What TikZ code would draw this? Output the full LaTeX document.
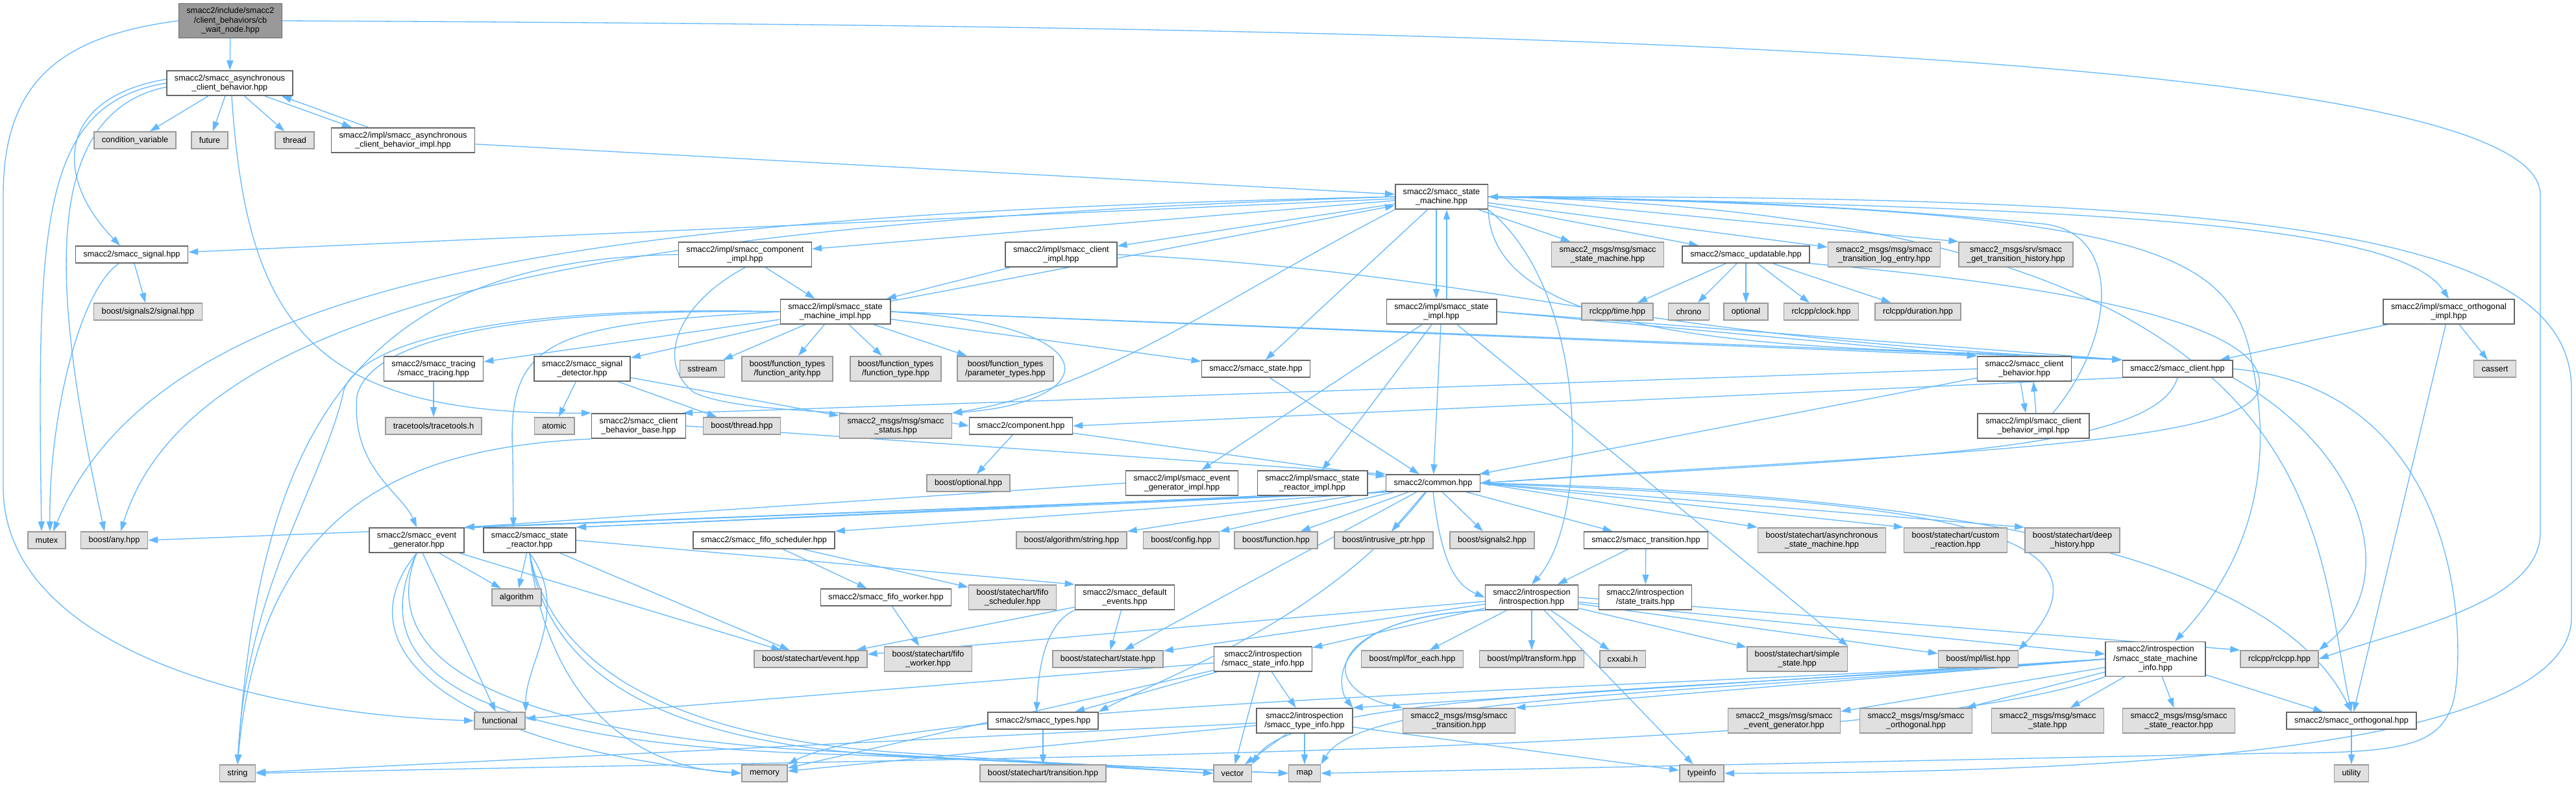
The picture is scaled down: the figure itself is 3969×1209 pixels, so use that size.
\documentclass[tikz,border=0pt]{standalone}
\usepackage{fontspec}
\setmainfont{Liberation Sans}
\usetikzlibrary{arrows.meta,backgrounds}
\definecolor{depblue}{HTML}{63B8FF}
\definecolor{boxline}{HTML}{666666}
\definecolor{extline}{HTML}{999999}
\definecolor{extfill}{HTML}{E0E0E0}
\definecolor{rootfill}{HTML}{999999}

\begin{document}
\begin{tikzpicture}[x=1pt, y=-1pt,
  file/.style={draw=boxline, fill=white, line width=1.6pt, align=center,
               inner xsep=12pt, inner ysep=6pt, minimum height=26pt,
               font=\fontsize{12.7}{14.5}\selectfont},
  extfile/.style={file, draw=extline, fill=extfill},
  rootfile/.style={file, fill=rootfill},
  dep/.style={draw=depblue, line width=1.3pt, -{Triangle[length=15pt,width=10pt]}}]

  % files, top to bottom
  \node[rootfile] (cbwait) at (355,32) {smacc2/include/smacc2\\/client\_behaviors/cb\\\_wait\_node.hpp};
  \node[file] (asyncb) at (354,128) {smacc2/smacc\_asynchronous\\\_client\_behavior.hpp};
  \node[extfile] (condvar) at (208,216) {condition\_variable};
  \node[extfile] (future) at (323,216) {future};
  \node[extfile] (thread) at (454,216) {thread};
  \node[file] (asyncimpl) at (621,216) {smacc2/impl/smacc\_asynchronous\\\_client\_behavior\_impl.hpp};
  \node[file] (sm) at (2221,303) {smacc2/smacc\_state\\\_machine.hpp};

  \node[file] (signal) at (203,392) {smacc2/smacc\_signal.hpp};
  \node[file] (compimpl) at (1148,392) {smacc2/impl/smacc\_component\\\_impl.hpp};
  \node[file] (clientimpl) at (1635,392) {smacc2/impl/smacc\_client\\\_impl.hpp};
  \node[extfile] (msgsm) at (2477,392) {smacc2\_msgs/msg/smacc\\\_state\_machine.hpp};
  \node[file] (upd) at (2690,392) {smacc2/smacc\_updatable.hpp};
  \node[extfile] (logentry) at (2903,392) {smacc2\_msgs/msg/smacc\\\_transition\_log\_entry.hpp};
  \node[extfile] (gethist) at (3106,392) {smacc2\_msgs/srv/smacc\\\_get\_transition\_history.hpp};

  \node[extfile] (bsignal) at (228,480) {boost/signals2/signal.hpp};
  \node[file] (smimpl) at (1287,480) {smacc2/impl/smacc\_state\\\_machine\_impl.hpp};
  \node[file] (stimpl) at (2221,480) {smacc2/impl/smacc\_state\\\_impl.hpp};
  \node[extfile] (rtime) at (2492,480) {rclcpp/time.hpp};
  \node[extfile] (chrono) at (2602,480) {chrono};
  \node[extfile] (optional) at (2690,480) {optional};
  \node[extfile] (rclock) at (2806,480) {rclcpp/clock.hpp};
  \node[extfile] (rdur) at (2955,480) {rclcpp/duration.hpp};
  \node[file] (orthimpl) at (3773,480) {smacc2/impl/smacc\_orthogonal\\\_impl.hpp};

  \node[file] (tracing) at (668,568) {smacc2/smacc\_tracing\\/smacc\_tracing.hpp};
  \node[file] (sigdet) at (897,568) {smacc2/smacc\_signal\\\_detector.hpp};
  \node[extfile] (sstream) at (1082,568) {sstream};
  \node[extfile] (farity) at (1213,568) {boost/function\_types\\/function\_arity.hpp};
  \node[extfile] (ftype) at (1380,568) {boost/function\_types\\/function\_type.hpp};
  \node[extfile] (ptypes) at (1549,568) {boost/function\_types\\/parameter\_types.hpp};
  \node[file] (state) at (1935,568) {smacc2/smacc\_state.hpp};
  \node[file] (cbeh) at (3119,568) {smacc2/smacc\_client\\\_behavior.hpp};
  \node[file] (client) at (3355,568) {smacc2/smacc\_client.hpp};
  \node[extfile] (cassert) at (3844,568) {cassert};

  \node[extfile] (tracetools) at (668,656) {tracetools/tracetools.h};
  \node[extfile] (atomic) at (854,656) {atomic};
  \node[file] (cbbase) at (984,656) {smacc2/smacc\_client\\\_behavior\_base.hpp};
  \node[extfile] (bthread) at (1143,656) {boost/thread.hpp};
  \node[extfile] (status) at (1380,656) {smacc2\_msgs/msg/smacc\\\_status.hpp};
  \node[file] (component) at (1573,656) {smacc2/component.hpp};
  \node[file] (cbimpl) at (3133,656) {smacc2/impl/smacc\_client\\\_behavior\_impl.hpp};

  \node[extfile] (boptional) at (1492,744) {boost/optional.hpp};
  \node[file] (evgenimpl) at (1821,744) {smacc2/impl/smacc\_event\\\_generator\_impl.hpp};
  \node[file] (reactorimpl) at (2022,744) {smacc2/impl/smacc\_state\\\_reactor\_impl.hpp};
  \node[file] (common) at (2208,744) {smacc2/common.hpp};

  \node[extfile] (mutex) at (72,832) {mutex};
  \node[extfile] (bany) at (176,832) {boost/any.hpp};
  \node[file] (evgen) at (642,832) {smacc2/smacc\_event\\\_generator.hpp};
  \node[file] (reactor) at (816,832) {smacc2/smacc\_state\\\_reactor.hpp};
  \node[file] (fifosched) at (1177,832) {smacc2/smacc\_fifo\_scheduler.hpp};
  \node[extfile] (algstring) at (1651,832) {boost/algorithm/string.hpp};
  \node[extfile] (config) at (1820,832) {boost/config.hpp};
  \node[extfile] (function) at (1966,832) {boost/function.hpp};
  \node[extfile] (intrusive) at (2132,832) {boost/intrusive\_ptr.hpp};
  \node[extfile] (signals2) at (2299,832) {boost/signals2.hpp};
  \node[file] (transition) at (2536,832) {smacc2/smacc\_transition.hpp};
  \node[extfile] (asyncsm) at (2807,832) {boost/statechart/asynchronous\\\_state\_machine.hpp};
  \node[extfile] (customr) at (3013,832) {boost/statechart/custom\\\_reaction.hpp};
  \node[extfile] (deephist) at (3193,832) {boost/statechart/deep\\\_history.hpp};

  \node[extfile] (algorithm) at (796,920) {algorithm};
  \node[file] (fifoworker) at (1365,920) {smacc2/smacc\_fifo\_worker.hpp};
  \node[extfile] (bfifosched) at (1560,920) {boost/statechart/fifo\\\_scheduler.hpp};
  \node[file] (defevents) at (1733,920) {smacc2/smacc\_default\\\_events.hpp};
  \node[file] (intro) at (2360,920) {smacc2/introspection\\/introspection.hpp};
  \node[file] (traits) at (2535,920) {smacc2/introspection\\/state\_traits.hpp};

  \node[extfile] (event) at (1249,1015) {boost/statechart/event.hpp};
  \node[extfile] (bfifoworker) at (1430,1015) {boost/statechart/fifo\\\_worker.hpp};
  \node[extfile] (bstate) at (1707,1015) {boost/statechart/state.hpp};
  \node[file] (stateinfo) at (1946,1015) {smacc2/introspection\\/smacc\_state\_info.hpp};
  \node[extfile] (foreach) at (2176,1015) {boost/mpl/for\_each.hpp};
  \node[extfile] (transform) at (2360,1015) {boost/mpl/transform.hpp};
  \node[extfile] (cxxabi) at (2500,1015) {cxxabi.h};
  \node[extfile] (simplestate) at (2769,1015) {boost/statechart/simple\\\_state.hpp};
  \node[extfile] (mpllist) at (3048,1015) {boost/mpl/list.hpp};
  \node[file] (sminfo) at (3321,1015) {smacc2/introspection\\/smacc\_state\_machine\\\_info.hpp};
  \node[extfile] (rclcpp) at (3512,1015) {rclcpp/rclcpp.hpp};

  \node[extfile] (functional) at (770,1110) {functional};
  \node[file] (types) at (1607,1110) {smacc2/smacc\_types.hpp};
  \node[file] (typeinfo) at (2010,1110) {smacc2/introspection\\/smacc\_type\_info.hpp};
  \node[extfile] (msgtrans) at (2248,1110) {smacc2\_msgs/msg/smacc\\\_transition.hpp};
  \node[extfile] (msgevgen) at (2749,1110) {smacc2\_msgs/msg/smacc\\\_event\_generator.hpp};
  \node[extfile] (msgorth) at (2952,1110) {smacc2\_msgs/msg/smacc\\\_orthogonal.hpp};
  \node[extfile] (msgstate) at (3155,1110) {smacc2\_msgs/msg/smacc\\\_state.hpp};
  \node[extfile] (msgreactor) at (3357,1110) {smacc2\_msgs/msg/smacc\\\_state\_reactor.hpp};
  \node[file] (orthogonal) at (3623,1110) {smacc2/smacc\_orthogonal.hpp};

  \node[extfile] (string) at (366,1191) {string};
  \node[extfile] (memory) at (1178,1191) {memory};
  \node[extfile] (btransition) at (1607,1191) {boost/statechart/transition.hpp};
  \node[extfile] (vector) at (1899,1191) {vector};
  \node[extfile] (map) at (2010,1191) {map};
  \node[extfile] (stdtypeinfo) at (2622,1191) {typeinfo};
  \node[extfile] (utility) at (3623,1191) {utility};

  \begin{pgfonlayer}{background}
    \fill[white] (0,0) rectangle (3969,1209);

    % straight includes
    \foreach \a/\b in {cbwait/asyncb, asyncb/condvar, asyncb/future, asyncb/thread,
        asyncimpl/sm, signal/bsignal,
        sm/signal, sm/compimpl, sm/clientimpl, sm/msgsm, sm/upd, sm/logentry, sm/state,
        compimpl/smimpl, clientimpl/smimpl,
        upd/rtime, upd/chrono, upd/optional, upd/rclock, upd/rdur,
        orthimpl/client, orthimpl/cassert, orthimpl/orthogonal,
        smimpl/sm, smimpl/sstream, smimpl/farity, smimpl/ftype, smimpl/ptypes,
        smimpl/state, smimpl/tracing, smimpl/sigdet,
        stimpl/common, stimpl/reactorimpl, stimpl/evgenimpl,
        tracing/tracetools, sigdet/atomic, sigdet/bthread, sigdet/status,
        state/common, cbeh/common, component/boptional, component/common,
        common/algstring, common/config, common/function, common/intrusive,
        common/signals2, common/transition, common/bstate,
        evgen/algorithm, evgen/functional, evgen/event, reactor/algorithm, reactor/event,
        fifosched/fifoworker, fifosched/bfifosched, fifoworker/bfifoworker,
        defevents/event, defevents/bstate, transition/intro, transition/traits,
        intro/foreach, intro/transform, intro/cxxabi, intro/stateinfo,
        intro/simplestate, intro/mpllist, intro/stdtypeinfo, intro/sminfo,
        intro/event, intro/bstate,
        stateinfo/types, stateinfo/typeinfo, stateinfo/vector, stateinfo/memory,
        stateinfo/functional,
        typeinfo/vector, typeinfo/map, typeinfo/string, typeinfo/memory,
        typeinfo/stdtypeinfo, types/btransition,
        sminfo/msgevgen, sminfo/msgorth, sminfo/msgstate, sminfo/msgreactor,
        sminfo/orthogonal, orthogonal/utility}
      \draw[dep] (\a) -- (\b);

    % straight, to a corner
    \draw[dep] (sm.east) -- (gethist.north west);
    \draw[dep] (smimpl.east) -- (cbeh.north west);
    \draw[dep] (smimpl.east) -- (client.north west);
    \draw[dep] (stimpl.east) -- (cbeh.north west);
    \draw[dep] (stimpl.east) -- (client.north west);
    \draw[dep] (stimpl) -- (simplestate.north east);
    \draw[dep] (cbeh.west) -- ([xshift=-5]cbbase.north east);
    \draw[dep] (cbbase.east) -- (common.north west);
    \draw[dep] (client.south west) -- (component.east);
    \draw[dep] (evgenimpl.west) -- (evgen.north east);
    \draw[dep] (reactorimpl.south west) -- (reactor.north east);
    \draw[dep] (common.south west) -- (bany.east);
    \draw[dep] (common.south west) -- (evgen.north east);
    \draw[dep] (common.south west) -- (reactor.north east);
    \draw[dep] (common.south west) -- (fifosched.north east);
    \draw[dep] (common.east) -- (asyncsm.north west);
    \draw[dep] (common.east) -- (customr.north west);
    \draw[dep] (common.east) -- (deephist.north west);
    \draw[dep] (reactor.east) -- (defevents.north west);
    \draw[dep] (intro.east) -- (rclcpp.north west);
    \draw[dep] (sminfo.west) -- (typeinfo.north east);
    \draw[dep] (sminfo.west) -- (msgtrans.north east);

    % pairs that include each other
    \draw[dep] ([xshift=54]asyncb.south) -- ([xshift=-79]asyncimpl.north);
    \draw[dep] ([xshift=-54]asyncimpl.north) -- ([xshift=80]asyncb.south);
    \draw[dep] ([xshift=-8]sm.south) -- ([xshift=-8]stimpl.north);
    \draw[dep] ([xshift=8]stimpl.north) -- ([xshift=8]sm.south);
    \draw[dep] ([xshift=-6]cbeh.south) -- ([xshift=-12]cbimpl.north);
    \draw[dep] ([xshift=4]cbimpl.north) -- ([xshift=14]cbeh.south);
    \draw[dep] ([xshift=30]cbimpl.north) .. controls (3260,520) and (3270,360) .. (3150,345)
      .. controls (2900,320) and (2600,305) .. (sm.east);

    % bent ones
    \draw[dep] ([yshift=6]asyncb.west) .. controls (90,150) and (80,270) .. ([xshift=-18]signal.north);
    \draw[dep] (asyncb.west) .. controls (60,160) and (57,350) .. ([xshift=-8]mutex.north);
    \draw[dep] ([yshift=-6]asyncb.west) .. controls (60,175) and (80,450) .. ([xshift=-15]bany.north);
    \draw[dep] ([xshift=3]asyncb.south) .. controls (380,500) and (480,640) .. (cbbase.north west);
    \draw[dep] ([xshift=-20]signal.south) .. controls (120,450) and (75,650) .. ([xshift=5]mutex.north);
    \draw[dep] (sm.west) .. controls (900,330) and (250,420) .. ([xshift=10]mutex.north);
    \draw[dep] (sm.west) .. controls (1000,340) and (300,450) .. ([xshift=10]bany.north);
    \draw[dep] (sm.south west) .. controls (1900,450) and (1700,600) .. (status.north east);
    \draw[dep] (sm.south east) .. controls (2300,560) and (2900,530) .. (client.north west);
    \draw[dep] (sm.east) .. controls (3300,320) and (3700,350) .. (orthimpl.north);
    \draw[dep] (sm.east) .. controls (3300,320) and (3440,380) .. (3470,560)
      .. controls (3500,700) and (3480,850) .. ([xshift=30]sminfo.north);
    \draw[dep] (sm.east) .. controls (3600,330) and (3560,800) .. (orthogonal.north);
    \draw[dep] (sm.south east) .. controls (2450,450) and (2450,800) .. (intro.north);
    \draw[dep] (compimpl.west) .. controls (560,400) and (400,650) .. (string.north);
    \draw[dep] (compimpl.south) .. controls (1040,470) and (1010,560) .. (1070,605)
      .. controls (1150,640) and (1350,630) .. (component.west);
    \draw[dep] (clientimpl.east) .. controls (2300,420) and (2500,520) .. (client.north west);
    \draw[dep] (upd.south east) .. controls (3300,450) and (3500,520) .. (3480,600)
      .. controls (3460,690) and (2900,700) .. (common.east);
    \draw[dep] (smimpl.east) .. controls (1720,500) and (1700,620) .. (status.north east);
    \draw[dep] (smimpl.west) .. controls (800,470) and (560,520) .. (530,600)
      .. controls (500,740) and (380,900) .. (string.north);
    \draw[dep] (smimpl.west) .. controls (800,475) and (570,520) .. (550,610)
      .. controls (540,720) and (620,760) .. (evgen.north);
    \draw[dep] (smimpl.west) .. controls (850,500) and (780,520) .. (790,700)
      -- ([xshift=-25]reactor.north);
    \draw[dep] (cbbase.south west) .. controls (600,690) and (400,800) .. (string.north);
    \draw[dep] (client.south) .. controls (3320,700) and (2900,705) .. (common.east);
    \draw[dep] (client.south east) .. controls (3650,700) and (3700,900) .. (rclcpp.north east);
    \draw[dep] (client.east) .. controls (3800,600) and (3800,1000) .. (3780,1080)
      .. controls (3760,1150) and (3700,1160) .. (3500,1160) -- (map.east);
    \draw[dep] (evgen.south) .. controls (520,1000) and (700,1150) .. (memory.west);
    \draw[dep] (evgen.south) .. controls (540,1060) and (800,1150) .. (1300,1162) -- (map.west);
    \draw[dep] (evgen.south) .. controls (560,1060) and (900,1140) .. (1300,1158) -- (vector.west);
    \draw[dep] (reactor.south) .. controls (840,1050) and (950,1180) .. (memory.west);
    \draw[dep] (reactor.south) .. controls (850,1080) and (1100,1150) .. (1400,1165) -- (map.west);
    \draw[dep] (reactor.south) .. controls (860,1080) and (1150,1145) .. (1400,1160) -- (vector.west);
    \draw[dep] (reactor.south) .. controls (880,940) and (810,1020) .. (functional.north east);
    \draw[dep] (common.south) .. controls (2220,860) and (2240,900) .. (intro.west);
    \draw[dep] (common) .. controls (2050,950) and (1800,1040) .. (types.north east);
    \draw[dep] (common.east) .. controls (2900,770) and (3300,800) .. (mpllist.north east);
    \draw[dep] (common.east) .. controls (3000,760) and (3500,850) .. (orthogonal.north);
    \draw[dep] (intro.south west) .. controls (2050,950) and (2020,1060) .. (msgtrans.north west);
    \draw[dep] (intro.south west) .. controls (2040,950) and (2060,1060) .. (typeinfo.north east);
    \draw[dep] (defevents.south west) .. controls (1610,960) and (1600,1030) .. ([xshift=-10]types.north);
    \draw[dep] (sminfo.south west) .. controls (2900,1165) and (1500,1165) .. (string.east);
    \draw[dep] (sminfo.west) .. controls (2600,1070) and (2100,1070) .. (map.north east);
    \draw[dep] (sminfo.west) .. controls (2600,1065) and (2000,1065) .. (vector.north east);
    \draw[dep] (sminfo.west) .. controls (2600,1060) and (1400,1080) .. (memory.north east);

    % long ones round the border
    \draw[dep] (cbwait.west) .. controls (100,55) and (5,120) .. (5,300)
      -- (5,750) .. controls (5,1000) and (400,1100) .. (functional.west);
    \draw[dep] (cbwait.east) .. controls (2000,40) and (3914,60) .. (3914,300)
      -- (3914,820) .. controls (3914,930) and (3700,970) .. (rclcpp.east);
    \draw[dep] (sm.east) .. controls (3500,300) and (3962,360) .. (3962,600)
      -- (3962,950) .. controls (3962,1150) and (3300,1190) .. (stdtypeinfo.east);
  \end{pgfonlayer}

  \useasboundingbox (0,0) rectangle (3969,1209);
\end{tikzpicture}
\end{document}
